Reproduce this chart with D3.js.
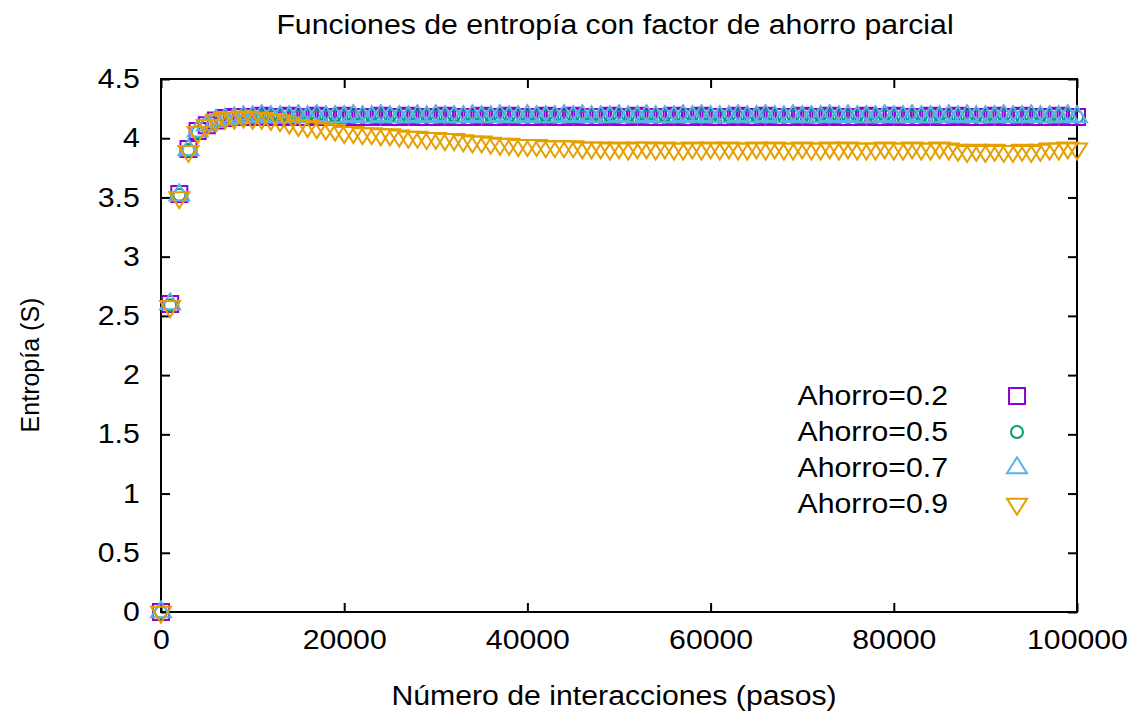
<!DOCTYPE html>
<html>
<head>
<meta charset="utf-8">
<script src="https://cdn.jsdelivr.net/npm/d3@7"></script>
<style>
  body { margin: 0; background: white; }
  text { font-family: "Liberation Sans", Arial, sans-serif; fill: #000; }
</style>
</head>
<body>
<svg width="1133" height="719"></svg>
<script>
const svg = d3.select('svg');
svg.style('background-color', 'white');

const width = +svg.attr('width');
const height = +svg.attr('height');

// pasos (cada 1000 interacciones)
const steps = [
  0, 1000, 2000, 3000, 4000, 5000, 6000, 7000, 8000, 9000,
  10000, 11000, 12000, 13000, 14000, 15000, 16000, 17000, 18000, 19000,
  20000, 21000, 22000, 23000, 24000, 25000, 26000, 27000, 28000, 29000,
  30000, 31000, 32000, 33000, 34000, 35000, 36000, 37000, 38000, 39000,
  40000, 41000, 42000, 43000, 44000, 45000, 46000, 47000, 48000, 49000,
  50000, 51000, 52000, 53000, 54000, 55000, 56000, 57000, 58000, 59000,
  60000, 61000, 62000, 63000, 64000, 65000, 66000, 67000, 68000, 69000,
  70000, 71000, 72000, 73000, 74000, 75000, 76000, 77000, 78000, 79000,
  80000, 81000, 82000, 83000, 84000, 85000, 86000, 87000, 88000, 89000,
  90000, 91000, 92000, 93000, 94000, 95000, 96000, 97000, 98000, 99000,
  100000
];

const ahorro02 = [
  0, 2.60, 3.53, 3.91, 4.06, 4.11, 4.15, 4.17, 4.18, 4.18,
  4.18, 4.19, 4.18, 4.18, 4.19, 4.18, 4.18, 4.19, 4.18, 4.18,
  4.19, 4.18, 4.18, 4.18, 4.19, 4.18, 4.18, 4.19, 4.18, 4.18,
  4.18, 4.19, 4.18, 4.18, 4.18, 4.19, 4.18, 4.18, 4.19, 4.18,
  4.18, 4.18, 4.19, 4.18, 4.18, 4.19, 4.18, 4.18, 4.18, 4.19,
  4.18, 4.18, 4.19, 4.18, 4.18, 4.18, 4.19, 4.18, 4.18, 4.19,
  4.18, 4.18, 4.18, 4.19, 4.18, 4.18, 4.19, 4.18, 4.18, 4.18,
  4.19, 4.18, 4.18, 4.19, 4.18, 4.18, 4.18, 4.19, 4.18, 4.18,
  4.19, 4.18, 4.18, 4.18, 4.19, 4.18, 4.18, 4.19, 4.18, 4.18,
  4.18, 4.19, 4.18, 4.18, 4.19, 4.18, 4.18, 4.18, 4.19, 4.18,
  4.18
];

const ahorro05 = [
  0, 2.59, 3.52, 3.90, 4.05, 4.11, 4.15, 4.17, 4.17, 4.18,
  4.18, 4.18, 4.19, 4.18, 4.18, 4.18, 4.19, 4.18, 4.18, 4.19,
  4.18, 4.18, 4.18, 4.19, 4.18, 4.19, 4.18, 4.18, 4.18, 4.19,
  4.18, 4.18, 4.19, 4.18, 4.18, 4.18, 4.19, 4.18, 4.19, 4.18,
  4.18, 4.18, 4.19, 4.18, 4.18, 4.19, 4.18, 4.18, 4.18, 4.19,
  4.18, 4.19, 4.18, 4.18, 4.18, 4.19, 4.18, 4.18, 4.19, 4.18,
  4.18, 4.18, 4.19, 4.18, 4.18, 4.19, 4.18, 4.18, 4.18, 4.19,
  4.18, 4.18, 4.19, 4.18, 4.18, 4.18, 4.19, 4.18, 4.18, 4.19,
  4.18, 4.18, 4.18, 4.19, 4.18, 4.19, 4.18, 4.18, 4.18, 4.19,
  4.18, 4.18, 4.19, 4.18, 4.18, 4.18, 4.19, 4.18, 4.18, 4.19,
  4.18
];

const ahorro07 = [
  0, 2.60, 3.52, 3.90, 4.06, 4.11, 4.15, 4.16, 4.17, 4.18,
  4.18, 4.19, 4.18, 4.18, 4.18, 4.19, 4.18, 4.19, 4.18, 4.18,
  4.18, 4.19, 4.18, 4.18, 4.19, 4.18, 4.18, 4.18, 4.19, 4.18,
  4.19, 4.18, 4.18, 4.18, 4.19, 4.18, 4.18, 4.19, 4.18, 4.18,
  4.19, 4.18, 4.18, 4.18, 4.19, 4.18, 4.19, 4.18, 4.18, 4.18,
  4.19, 4.18, 4.18, 4.19, 4.18, 4.18, 4.18, 4.19, 4.18, 4.19,
  4.18, 4.18, 4.18, 4.19, 4.18, 4.18, 4.19, 4.18, 4.18, 4.19,
  4.18, 4.18, 4.18, 4.19, 4.18, 4.19, 4.18, 4.18, 4.18, 4.19,
  4.18, 4.18, 4.19, 4.18, 4.18, 4.18, 4.19, 4.18, 4.19, 4.18,
  4.18, 4.18, 4.19, 4.18, 4.18, 4.19, 4.18, 4.18, 4.18, 4.19,
  4.18
];

const ahorro09 = [
  0, 2.58, 3.50, 3.89, 4.05, 4.11, 4.15, 4.17, 4.17, 4.18,
  4.17, 4.17, 4.16, 4.15, 4.13, 4.11, 4.10, 4.09, 4.08, 4.07,
  4.05, 4.05, 4.04, 4.04, 4.03, 4.03, 4.02, 4.01, 4.01, 4.00,
  4.00, 3.99, 3.99, 3.98, 3.97, 3.97, 3.96, 3.95, 3.95, 3.94,
  3.94, 3.94, 3.93, 3.93, 3.93, 3.93, 3.92, 3.92, 3.92, 3.91,
  3.92, 3.91, 3.92, 3.92, 3.91, 3.92, 3.91, 3.91, 3.92, 3.91,
  3.92, 3.91, 3.92, 3.91, 3.91, 3.92, 3.91, 3.92, 3.91, 3.91,
  3.92, 3.91, 3.91, 3.92, 3.91, 3.92, 3.91, 3.91, 3.91, 3.92,
  3.91, 3.91, 3.92, 3.91, 3.91, 3.92, 3.91, 3.90, 3.89, 3.90,
  3.89, 3.90, 3.89, 3.89, 3.90, 3.89, 3.90, 3.91, 3.91, 3.92,
  3.91
];

const seriesNames = ['Ahorro=0.2', 'Ahorro=0.5', 'Ahorro=0.7', 'Ahorro=0.9'];
const seriesValues = [ahorro02, ahorro05, ahorro07, ahorro09];
const seriesColors = ['#9400d3', '#009e73', '#56b4e9', '#e69f00'];
const seriesShapes = ['square', 'circle', 'up', 'down'];

const xTicks = [0, 20000, 40000, 60000, 80000, 100000];
const yTicks = [0, 0.5, 1, 1.5, 2, 2.5, 3, 3.5, 4, 4.5];

// el original esta un poco estirado en horizontal
const stretch = 1.12;

const margin = { top: 79, right: 56, bottom: 107, left: 161 };
const innerWidth = width - margin.left - margin.right;
const innerHeight = height - margin.top - margin.bottom;

const xScale = d3.scaleLinear().domain([0, 100000]).range([0, innerWidth]);
const yScale = d3.scaleLinear().domain([0, 4.5]).range([innerHeight, 0]);

const g = svg.append('g')
  .attr('transform', `translate(${margin.left},${margin.top})`);

// marcas de los ejes (hacia dentro, con espejo)
const styleAxis = sel => {
  sel.select('.domain').remove();
  sel.selectAll('.tick line').attr('stroke', '#000').attr('stroke-width', 2);
};

g.append('g')
  .attr('transform', `translate(0,${innerHeight})`)
  .call(d3.axisBottom(xScale).tickValues(xTicks).tickSize(-9).tickPadding(18).tickFormat(d3.format('d')))
  .call(styleAxis)
  .selectAll('text')
    .attr('font-size', 27)
    .attr('font-family', 'Liberation Sans, Arial, sans-serif')
    .attr('transform', `scale(${stretch},1)`);

g.append('g')
  .call(d3.axisTop(xScale).tickValues(xTicks).tickSize(-9))
  .call(styleAxis)
  .selectAll('text').remove();

g.append('g')
  .call(d3.axisLeft(yScale).tickValues(yTicks).tickSize(-9).tickPadding(19).tickFormat(d => d))
  .call(styleAxis)
  .selectAll('text')
    .attr('font-size', 27)
    .attr('font-family', 'Liberation Sans, Arial, sans-serif')
    .attr('transform', `scale(${stretch},1)`);

g.append('g')
  .attr('transform', `translate(${innerWidth},0)`)
  .call(d3.axisRight(yScale).tickValues(yTicks).tickSize(-9))
  .call(styleAxis)
  .selectAll('text').remove();

// marco
g.append('rect')
  .attr('width', innerWidth)
  .attr('height', innerHeight)
  .attr('fill', 'none')
  .attr('stroke', '#000')
  .attr('stroke-width', 2);

// simbolos tipo gnuplot
const symbolPath = (shape, cx, cy) => {
  const p = d3.path();
  if (shape === 'square') {
    p.rect(cx - 8, cy - 8, 16, 16);
  } else if (shape === 'circle') {
    p.moveTo(cx + 6, cy);
    p.arc(cx, cy, 6, 0, 2 * Math.PI);
  } else if (shape === 'up') {
    p.moveTo(cx, cy - 10.7);
    p.lineTo(cx - 10, cy + 5.3);
    p.lineTo(cx + 10, cy + 5.3);
    p.closePath();
  } else {
    p.moveTo(cx, cy + 10.7);
    p.lineTo(cx - 10, cy - 5.3);
    p.lineTo(cx + 10, cy - 5.3);
    p.closePath();
  }
  return p.toString();
};

seriesValues.forEach((vals, i) => {
  g.append('g')
    .selectAll('path')
    .data(vals.map((v, j) => ({ x: steps[j], y: v })))
    .enter().append('path')
      .attr('d', d => symbolPath(seriesShapes[i], xScale(d.x), yScale(d.y)))
      .attr('fill', 'none')
      .attr('stroke', seriesColors[i])
      .attr('stroke-width', 2);
});

// leyenda
const legend = g.append('g')
  .attr('transform', `translate(${innerWidth - 60},${396 - margin.top})`);

seriesNames.forEach((name, i) => {
  legend.append('text')
    .attr('transform', `translate(-69,${i * 36}) scale(${stretch},1)`)
    .attr('dy', '0.35em')
    .attr('text-anchor', 'end')
    .attr('font-size', 27)
    .text(name);
  legend.append('path')
    .attr('d', symbolPath(seriesShapes[i], 0, i * 36))
    .attr('fill', 'none')
    .attr('stroke', seriesColors[i])
    .attr('stroke-width', 2);
});

// titulos
svg.append('text')
  .attr('transform', `translate(615,34) scale(${stretch},1)`)
  .attr('text-anchor', 'middle')
  .attr('font-size', 27)
  .text('Funciones de entropía con factor de ahorro parcial');

svg.append('text')
  .attr('transform', `translate(614,705) scale(${stretch},1)`)
  .attr('text-anchor', 'middle')
  .attr('font-size', 27)
  .text('Número de interacciones (pasos)');

svg.append('text')
  .attr('transform', 'translate(39,365) rotate(-90)')
  .attr('text-anchor', 'middle')
  .attr('font-size', 25)
  .text('Entropía (S)');
</script>
</body>
</html>
